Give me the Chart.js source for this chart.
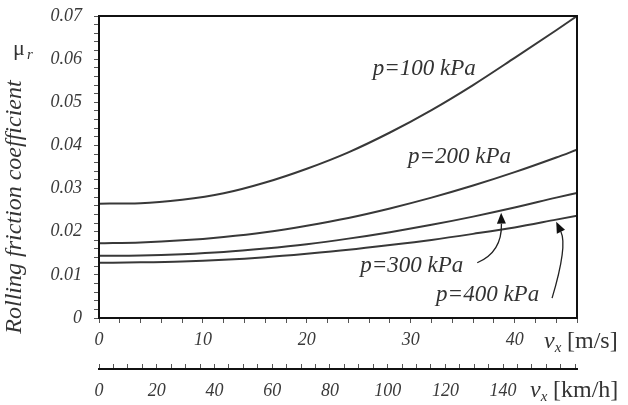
<!DOCTYPE html>
<html>
<head>
<meta charset="utf-8">
<script src="https://cdn.jsdelivr.net/npm/chart.js@4.4.1/dist/chart.umd.min.js"></script>
<style>
  html, body { margin: 0; padding: 0; background: #fff; }
  canvas { display: block; }
</style>
</head>
<body>
<canvas id="chart" width="628" height="405"></canvas>
<script>
// speed in m/s, rolling friction coefficient per tyre pressure
const speedMs = [0, 4, 8, 12, 16, 20, 24, 28, 32, 36, 40, 44, 46];
const mu100 = [0.0265, 0.0266, 0.0274, 0.0289, 0.0314, 0.0346, 0.0384, 0.0430, 0.0482, 0.0540, 0.0603, 0.0667, 0.0700];
const mu200 = [0.0173, 0.0175, 0.0180, 0.0188, 0.0199, 0.0214, 0.0232, 0.0254, 0.0279, 0.0307, 0.0338, 0.0372, 0.0390];
const mu300 = [0.0144, 0.0145, 0.0148, 0.0153, 0.0161, 0.0171, 0.0184, 0.0199, 0.0216, 0.0235, 0.0256, 0.0279, 0.0290];
const mu400 = [0.0128, 0.0129, 0.0131, 0.0135, 0.0141, 0.0149, 0.0158, 0.0169, 0.0181, 0.0195, 0.0210, 0.0228, 0.0237];

const yTickLabels = ["0", "0.01", "0.02", "0.03", "0.04", "0.05", "0.06", "0.07"];
const msTickLabels = ["0", "10", "20", "30", "40"];
const kmhTickLabels = ["0", "20", "40", "60", "80", "100", "120", "140"];

const serif = '"Liberation Serif", "Times New Roman", serif';
const ink = "#333";

function series(values) {
    return values.map((v, i) => ({ x: speedMs[i], y: v }));
}

function stepTicks(max, step) {
    const ticks = [];
    for (let i = 0; i * step <= max + 1e-9; i++) {
        ticks.push({ value: +(i * step).toFixed(4) });
    }
    return ticks;
}

function labelFor(value, step, labels) {
    const idx = Math.round(value / step);
    return Math.abs(idx * step - value) < 1e-6 && labels[idx] !== undefined ? labels[idx] : "";
}

// keep the plot box fixed, labels may overhang
function fixSize(prop, size) {
    return (s) => {
        s[prop] = size;
        s.paddingTop = 0;
        s.paddingBottom = 0;
        s.paddingLeft = 0;
        s.paddingRight = 0;
    };
}

// notes placed in data coordinates
const curveNotes = [
    { text: "p=100 kPa", v: 31.3, mu: 0.0578 },
    { text: "p=200 kPa", v: 34.7, mu: 0.0374 },
    { text: "p=300 kPa", v: 30.1, mu: 0.0121 },
    { text: "p=400 kPa", v: 37.4, mu: 0.0053 },
];
const arrows = [
    { from: [36.4, 0.0128], ctrl: [38.8, 0.0153], to: [38.7, 0.0244] },
    { from: [43.6, 0.0046], ctrl: [45.1, 0.0167], to: [44.0, 0.0223] },
];

const decorations = {
    id: "decorations",
    afterDraw(chart) {
        const { ctx, chartArea: a, scales: { x, y } } = chart;
        ctx.save();

        ctx.strokeStyle = "#111";
        ctx.lineWidth = 2;
        ctx.strokeRect(a.left, a.top, a.right - a.left, a.bottom - a.top);

        ctx.fillStyle = ink;
        ctx.font = `italic 23px ${serif}`;
        ctx.textAlign = "center";
        ctx.textBaseline = "middle";
        for (const n of curveNotes) {
            ctx.fillText(n.text, x.getPixelForValue(n.v), y.getPixelForValue(n.mu));
        }

        ctx.strokeStyle = "#222";
        ctx.fillStyle = "#111";
        ctx.lineWidth = 1.3;
        for (const ar of arrows) {
            const sx = x.getPixelForValue(ar.from[0]), sy = y.getPixelForValue(ar.from[1]);
            const cx = x.getPixelForValue(ar.ctrl[0]), cy = y.getPixelForValue(ar.ctrl[1]);
            const tx = x.getPixelForValue(ar.to[0]), ty = y.getPixelForValue(ar.to[1]);
            const ang = Math.atan2(ty - cy, tx - cx);
            const len = 11, half = 4.5;
            const bx = tx - len * Math.cos(ang), by = ty - len * Math.sin(ang);
            ctx.beginPath();
            ctx.moveTo(sx, sy);
            ctx.quadraticCurveTo(cx, cy, bx, by);
            ctx.stroke();
            ctx.beginPath();
            ctx.moveTo(tx, ty);
            ctx.lineTo(bx + half * Math.sin(ang), by - half * Math.cos(ang));
            ctx.lineTo(bx - half * Math.sin(ang), by + half * Math.cos(ang));
            ctx.closePath();
            ctx.fill();
        }

        // axis unit labels
        const unitLabel = (px, ux, py, unit) => {
            ctx.textAlign = "left";
            ctx.textBaseline = "alphabetic";
            ctx.fillStyle = ink;
            ctx.font = `italic 24px ${serif}`;
            ctx.fillText("v", px, py);
            const w = ctx.measureText("v").width;
            ctx.font = `italic 15px ${serif}`;
            ctx.fillText("x", px + w, py + 4);
            ctx.font = `24px ${serif}`;
            ctx.fillText(unit, ux, py);
        };
        unitLabel(544, 567, 348, "[m/s]");
        unitLabel(530, 553, 397, "[km/h]");

        // y axis title and symbol
        ctx.save();
        ctx.translate(21, 207);
        ctx.rotate(-Math.PI / 2);
        ctx.textAlign = "center";
        ctx.textBaseline = "alphabetic";
        ctx.font = `italic 24px ${serif}`;
        ctx.fillText("Rolling friction coefficient", 0, 0);
        ctx.restore();

        ctx.textAlign = "left";
        ctx.font = `22px ${serif}`;
        ctx.fillText("\u03bc", 13, 55);
        ctx.font = `italic 15px ${serif}`;
        ctx.fillText("r", 27, 59);

        ctx.restore();
    },
};

const lineStyle = {
    borderColor: "#383838",
    borderWidth: 2,
    pointRadius: 0,
    cubicInterpolationMode: "monotone",
    fill: false,
};

const tickFont = { family: serif, size: 18, style: "italic" };

new Chart(document.getElementById("chart"), {
    type: "line",
    data: {
        datasets: [
            { label: "p=100 kPa", data: series(mu100), ...lineStyle },
            { label: "p=200 kPa", data: series(mu200), ...lineStyle },
            { label: "p=300 kPa", data: series(mu300), ...lineStyle },
            { label: "p=400 kPa", data: series(mu400), ...lineStyle },
        ],
    },
    options: {
        responsive: false,
        animation: false,
        devicePixelRatio: 1,
        layout: { padding: { top: 16, right: 51, left: 0, bottom: 0 } },
        plugins: { legend: { display: false }, tooltip: { enabled: false } },
        scales: {
            x: {
                type: "linear",
                position: "bottom",
                weight: 0,
                min: 0,
                max: 46,
                afterBuildTicks: (s) => { s.ticks = stepTicks(46, 2); },
                afterFit: fixSize("height", 51),
                grid: { drawOnChartArea: false, tickLength: 5, tickColor: "#555", tickWidth: 1 },
                border: { display: true, color: "#111", width: 2 },
                ticks: {
                    autoSkip: false,
                    maxRotation: 0,
                    padding: 6,
                    color: "#3a3a3a",
                    font: tickFont,
                    callback: (v) => labelFor(v, 10, msTickLabels),
                },
            },
            kmh: {
                type: "linear",
                position: "bottom",
                weight: 1,
                min: 0,
                max: 46 * 3.6,
                afterBuildTicks: (s) => { s.ticks = stepTicks(165, 5); },
                afterFit: fixSize("height", 36),
                grid: { drawOnChartArea: false, tickLength: -5, tickColor: "#555", tickWidth: 1 },
                border: { display: true, color: "#111", width: 2 },
                ticks: {
                    autoSkip: false,
                    maxRotation: 0,
                    padding: 16,
                    color: "#3a3a3a",
                    font: tickFont,
                    callback: (v) => labelFor(v, 20, kmhTickLabels),
                },
            },
            y: {
                type: "linear",
                min: 0,
                max: 0.07,
                afterBuildTicks: (s) => { s.ticks = stepTicks(0.07, 0.002); },
                afterFit: fixSize("width", 99),
                grid: { drawOnChartArea: false, tickLength: 5, tickColor: "#555", tickWidth: 1 },
                border: { display: true, color: "#111", width: 2 },
                ticks: {
                    autoSkip: false,
                    padding: 12,
                    color: "#3a3a3a",
                    font: tickFont,
                    callback: (v) => labelFor(v, 0.01, yTickLabels),
                },
            },
        },
    },
    plugins: [decorations],
});
</script>
</body>
</html>
